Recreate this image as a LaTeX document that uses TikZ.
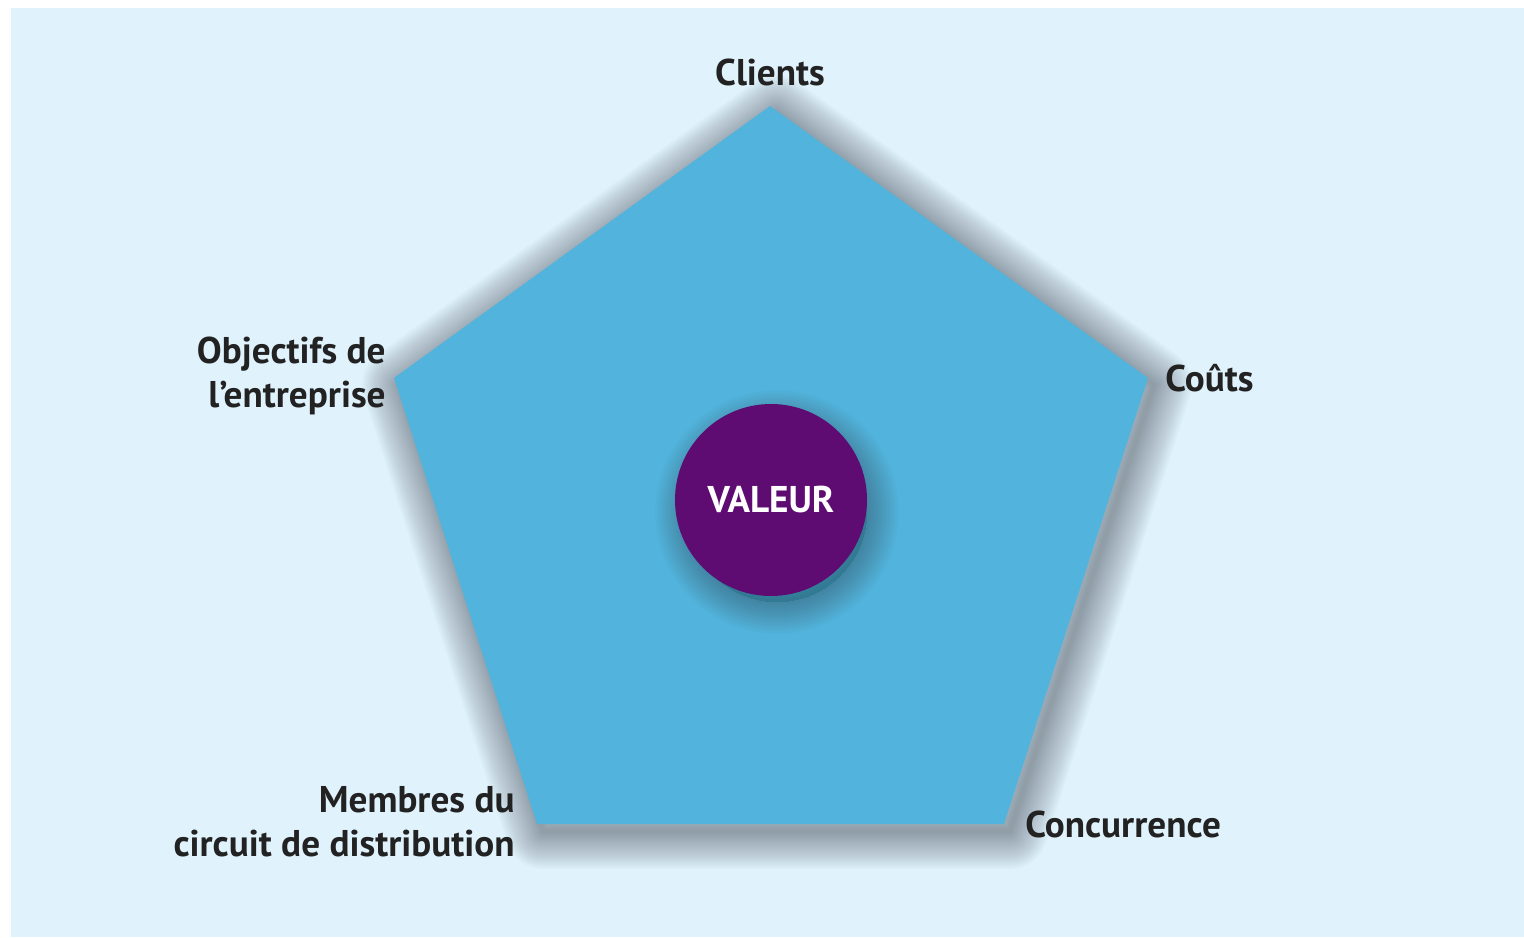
\documentclass[tikz,border=0pt]{standalone}
\usepackage{fontspec}
\setmainfont{PT Sans}
\definecolor{bgblue}{HTML}{E0F2FC}
\definecolor{pentablue}{HTML}{52B3DC}
\definecolor{valpurple}{HTML}{5E0B72}
\definecolor{labeltext}{HTML}{222222}
\definecolor{shade}{HTML}{303840}
\tikzset{
  lbl/.style={font=\fontsize{18.6}{22}\selectfont\bfseries, text=labeltext, inner sep=0pt},
  % soft shadow built from stacked translucent strokes
  haze/.style={draw=shade, draw opacity=0.018, line join=round},
}
\begin{document}
\begin{tikzpicture}[x=0.5pt, y=-0.5pt]
  \useasboundingbox (0,0) rectangle (1524,937);
  % page background
  \fill[white] (0,0) rectangle (1524,937);
  \fill[bgblue] (11,8) rectangle (1524,937);

  % pentagon corners
  \coordinate (top) at (770,106);
  \coordinate (right) at (1148,378);
  \coordinate (bright) at (1004,824);
  \coordinate (bleft) at (537,824);
  \coordinate (left) at (394,378);

  % shadow under the pentagon, offset down and to the right
  \foreach \w in {76,73,...,4}
    \path[haze, line width=\w*0.5pt]
      ([shift={(6,7)}]top) -- ([shift={(6,7)}]right) -- ([shift={(6,7)}]bright)
      -- ([shift={(6,7)}]bleft) -- ([shift={(6,7)}]left) -- cycle;

  \path[fill=pentablue] (top) -- (right) -- (bright) -- (bleft) -- (left) -- cycle;

  % shadow under the disc
  \foreach \w in {64,60,...,4}
    \path[haze, draw opacity=0.022, fill=shade, fill opacity=0.008, line width=\w*0.5pt] (777,512) circle[radius=90];

  % central value disc
  \node[circle, fill=valpurple, minimum size=96pt, inner sep=0pt,
        text=white, font=\fontsize{18.6}{22}\selectfont\bfseries] (valeur) at (771,500) {VALEUR};

  % labels at the corners
  \node[lbl, anchor=south] (clients) at (770,86) {Clients};
  \node[lbl, anchor=east, align=right] (objectifs) at (386,376) {Objectifs de\\l’entreprise};
  \node[lbl, anchor=west] (couts) at (1165,378) {Coûts};
  \node[lbl, anchor=east, align=right] (membres) at (515,822) {Membres du\\circuit de distribution};
  \node[lbl, anchor=west] (concurrence) at (1025,824) {Concurrence};
\end{tikzpicture}
\end{document}
